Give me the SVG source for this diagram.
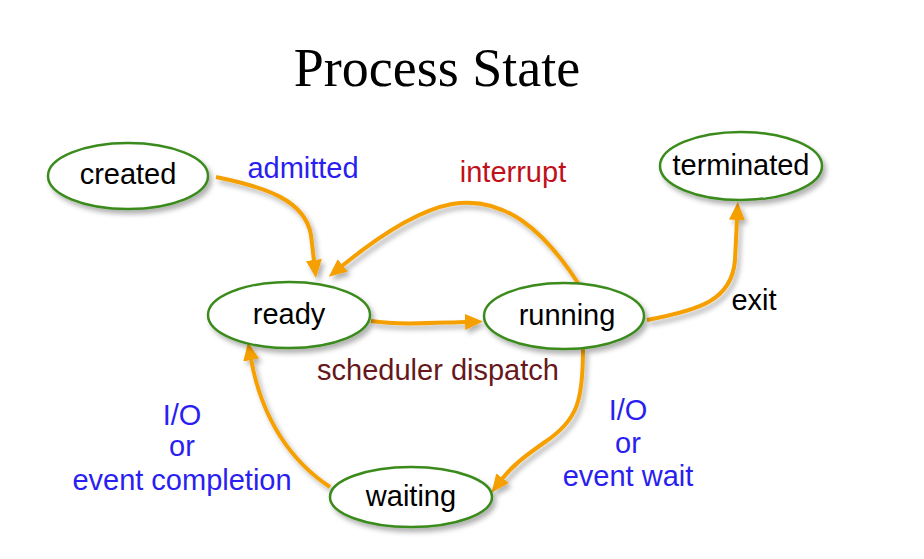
<svg xmlns="http://www.w3.org/2000/svg" width="924" height="559" viewBox="0 0 924 559">
<defs>
<filter id="sh" filterUnits="userSpaceOnUse" x="0" y="0" width="924" height="559">
<feDropShadow dx="3" dy="4" stdDeviation="2.5" flood-color="#000" flood-opacity="0.3"/>
</filter>
<marker id="ah" viewBox="0 0 18 16" refX="1" refY="8" markerWidth="18" markerHeight="16" markerUnits="userSpaceOnUse" orient="auto">
<path d="M0,0 L18,8 L0,16 Z" fill="#f5a005"/>
</marker>
</defs>
<style>
.st ellipse{fill:#fff;stroke:#3a8a1c;stroke-width:2.5;filter:url(#sh)}
.st text{font-family:"Liberation Sans",Arial,sans-serif;font-size:29px;fill:#000;text-anchor:middle}
.cn path{fill:none;stroke:#f5a005;stroke-width:4;marker-end:url(#ah);filter:url(#sh)}
.lb{font-family:"Liberation Sans",Arial,sans-serif;font-size:29px;text-anchor:middle}
.blue{fill:#2a1ef0}
</style>
<rect width="924" height="559" fill="#fff"/>
<text x="437" y="86" font-family="Liberation Serif,serif" font-size="54" text-anchor="middle" fill="#000">Process State</text>
<g id="connectors" class="cn">
<path d="M216,177 C265,187 305,200 311,235 L314,261"/>
<path d="M578,283 C545,232 505,195 452,204 C420,210 380,235 342,266"/>
<path d="M371,321 C400,325 430,323 466,322"/>
<path d="M647,320 C700,310 732,300 735,260 L737,219"/>
<path d="M583,349 C583,400 578,420 545,442 C525,456 512,466 502,479"/>
<path d="M330,487 C292,462 262,420 251,359"/>
</g>
<g id="created" class="st"><ellipse cx="128" cy="176" rx="80" ry="33"/><text x="128" y="184">created</text></g>
<g id="ready" class="st"><ellipse cx="289" cy="315" rx="81" ry="33"/><text x="289" y="324">ready</text></g>
<g id="running" class="st"><ellipse cx="564" cy="316" rx="80" ry="33"/><text x="567" y="325">running</text></g>
<g id="terminated" class="st"><ellipse cx="741" cy="166" rx="81" ry="34"/><text x="741" y="175">terminated</text></g>
<g id="waiting" class="st"><ellipse cx="411" cy="497" rx="81" ry="30"/><text x="411" y="506">waiting</text></g>
<g id="labels">
<text class="lb blue" x="303" y="178">admitted</text>
<text class="lb" x="513" y="182" fill="#c0101a">interrupt</text>
<text class="lb" x="754" y="310" fill="#000">exit</text>
<text class="lb" x="438" y="380" fill="#66181a">scheduler dispatch</text>
<text class="lb blue" x="182" y="425">I/O</text>
<text class="lb blue" x="182" y="456">or</text>
<text class="lb blue" x="182" y="490">event completion</text>
<text class="lb blue" x="628" y="420">I/O</text>
<text class="lb blue" x="628" y="453">or</text>
<text class="lb blue" x="628" y="486">event wait</text>
</g>
</svg>
